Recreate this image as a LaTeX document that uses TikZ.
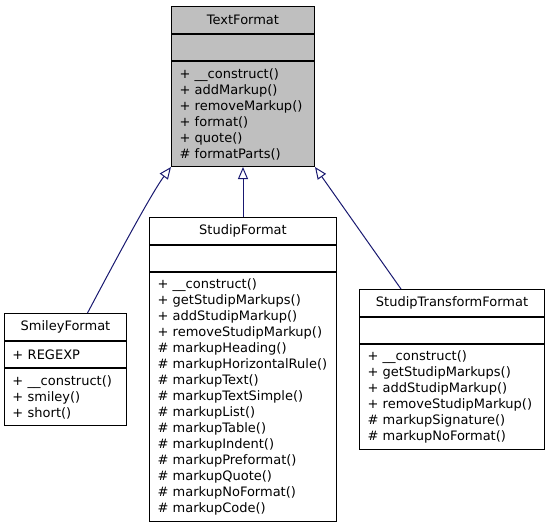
\documentclass[tikz,border=0pt]{standalone}
\usepackage{fontspec}
\setmainfont{DejaVu Sans}
\usepackage{tikz}
\usetikzlibrary{arrows.meta, positioning}
\definecolor{basegray}{HTML}{BFBFBF}
\definecolor{edgeblue}{HTML}{191970}

\begin{document}
\begin{tikzpicture}[x=1pt, y=-1pt,
	font=\fontsize{13pt}{16pt}\selectfont,
	box/.style={draw=black, line width=1pt, fill=white, inner xsep=8pt, inner ysep=0pt},
	classname/.style={box, align=center, minimum height=27pt},
	members/.style={box, align=left, inner ysep=5pt},
	inherit/.style={draw=edgeblue, line width=1pt, -{Triangle[open, length=12pt, width=10pt]}}]
\useasboundingbox (0,0) rectangle (549,528);

\node[classname, fill=basegray, text width=127pt, anchor=north west] (tf-name) at (171,6) {TextFormat};
\node[classname, fill=basegray, text width=127pt, minimum height=26pt, below=0pt of tf-name] (tf-attr) {};
\node[members, fill=basegray, text width=127pt, minimum height=105pt, below=0pt of tf-attr] (tf-ops)
	{+ \_\_construct()\\+ addMarkup()\\+ removeMarkup()\\+ format()\\+ quote()\\\# formatParts()};

\node[classname, text width=106pt, anchor=north west] (sm-name) at (4,313) {SmileyFormat};
\node[members, text width=106pt, minimum height=26pt, below=0pt of sm-name] (sm-attr) {+ REGEXP};
\node[members, text width=106pt, minimum height=57pt, below=0pt of sm-attr] (sm-ops)
	{+ \_\_construct()\\+ smiley()\\+ short()};

\node[classname, text width=171pt, anchor=north west] (sf-name) at (149,217) {StudipFormat};
\node[classname, text width=171pt, minimum height=26pt, below=0pt of sf-name] (sf-attr) {};
\node[members, text width=171pt, minimum height=249pt, below=0pt of sf-attr] (sf-ops)
	{+ \_\_construct()\\+ getStudipMarkups()\\+ addStudipMarkup()\\+ removeStudipMarkup()\\
	\# markupHeading()\\\# markupHorizontalRule()\\\# markupText()\\\# markupTextSimple()\\
	\# markupList()\\\# markupTable()\\\# markupIndent()\\\# markupPreformat()\\
	\# markupQuote()\\\# markupNoFormat()\\\# markupCode()};

\node[classname, text width=169pt, anchor=north west] (stf-name) at (359,289) {StudipTransformFormat};
\node[classname, text width=169pt, minimum height=26pt, below=0pt of stf-name] (stf-attr) {};
\node[members, text width=169pt, minimum height=105pt, below=0pt of stf-attr] (stf-ops)
	{+ \_\_construct()\\+ getStudipMarkups()\\+ addStudipMarkup()\\+ removeStudipMarkup()\\
	\# markupSignature()\\\# markupNoFormat()};

\draw[inherit] ([xshift=22pt]sm-name.north) .. controls (105,280) and (150,195) .. (tf-ops.south west);
\draw[inherit] (sf-name.north) -- (tf-ops.south);
\draw[inherit] ([xshift=-51pt]stf-name.north) -- (tf-ops.south east);
\end{tikzpicture}
\end{document}
